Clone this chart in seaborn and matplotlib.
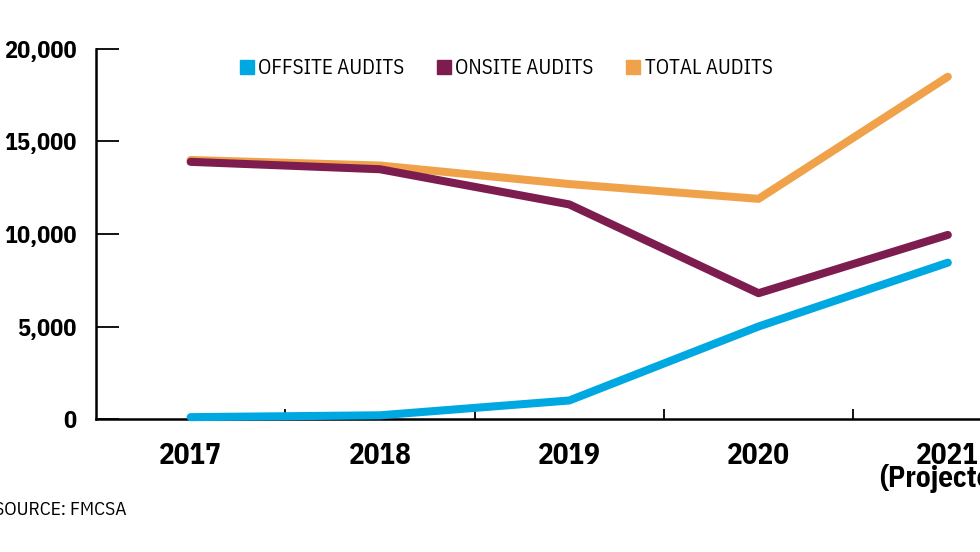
import matplotlib
matplotlib.use('Agg')
import matplotlib.pyplot as plt
from matplotlib.lines import Line2D
from matplotlib.ticker import FuncFormatter
import seaborn as sns
import pandas as pd

years = ['2017', '2018', '2019', '2020', '2021\n(Projected)']
offsite = [100, 200, 1000, 5000, 8450]
onsite = [13900, 13500, 11600, 6800, 9950]
total = [14000, 13700, 12700, 11900, 18500]

series_names = ['OFFSITE AUDITS', 'ONSITE AUDITS', 'TOTAL AUDITS']
colors = {'OFFSITE AUDITS': '#00A8E1', 'ONSITE AUDITS': '#7D1C4F', 'TOTAL AUDITS': '#F0A24B'}

sns.set_style('white')
plt.rcParams['font.family'] = ['IBM Plex Sans Condensed', 'Open Sans Condensed', 'DejaVu Sans']
plt.rcParams['text.color'] = 'black'
plt.rcParams['xtick.color'] = 'black'
plt.rcParams['ytick.color'] = 'black'

rows = []
for name, vals in zip(series_names, [offsite, onsite, total]):
    for i, v in enumerate(vals):
        rows.append({'x': i, 'value': v, 'series': name})
df = pd.DataFrame(rows)

fig = plt.figure(figsize=(9.8, 5.52), dpi=100)
ax = fig.add_axes([96 / 980, 1 - 419 / 552, 1 - 96 / 980, (419 - 49) / 552])

# total first so onsite/offsite sit on top of it
sns.lineplot(data=df, x='x', y='value', hue='series',
             hue_order=['TOTAL AUDITS', 'ONSITE AUDITS', 'OFFSITE AUDITS'],
             palette=colors, linewidth=5.8, legend=False, ax=ax,
             solid_capstyle='round')
for ln in ax.lines:
    ln.set_clip_on(False)
    ln.set_zorder(3)

ax.set_xlim(-0.5, 4.17)
ax.set_ylim(0, 20000)
ax.set_xlabel('')
ax.set_ylabel('')

for s in ['top', 'right']:
    ax.spines[s].set_visible(False)
for s in ['left', 'bottom']:
    ax.spines[s].set_linewidth(1.8)
    ax.spines[s].set_color('black')

ax.set_yticks([0, 5000, 10000, 15000, 20000])
ax.yaxis.set_major_formatter(FuncFormatter(lambda v, p: f'{int(v):,}'))
ax.tick_params(axis='y', left=True, direction='in', length=16.5, width=1.3,
               pad=14, labelsize=17.5)
for lbl in ax.get_yticklabels():
    lbl.set_fontweight('bold')

ax.set_xticks([0.5, 1.5, 2.5, 3.5])
ax.set_xticklabels([])
ax.tick_params(axis='x', bottom=True, direction='in', length=7, width=1.3)

# baseline alignment uses the last line, so two-line label sits lower
for i, yr in enumerate(years):
    y = -2430 if '\n' not in yr else -3680
    ax.text(i, y, yr, ha='center', va='baseline', fontsize=21,
            fontweight='bold', linespacing=0.76, clip_on=False)

handles = [Line2D([], [], marker='s', linestyle='', markersize=10,
                  color=colors[n]) for n in series_names]
ax.legend(handles, series_names, loc='center', bbox_to_anchor=(0.463, 0.946),
          ncol=3, frameon=False, fontsize=15, handletextpad=0.15,
          columnspacing=1.5, handlelength=0.8)

fig.text(-0.006, 1 - 515 / 552, 'SOURCE: FMCSA', ha='left', va='baseline',
         fontsize=14)

fig.savefig('out.png', dpi=100)
